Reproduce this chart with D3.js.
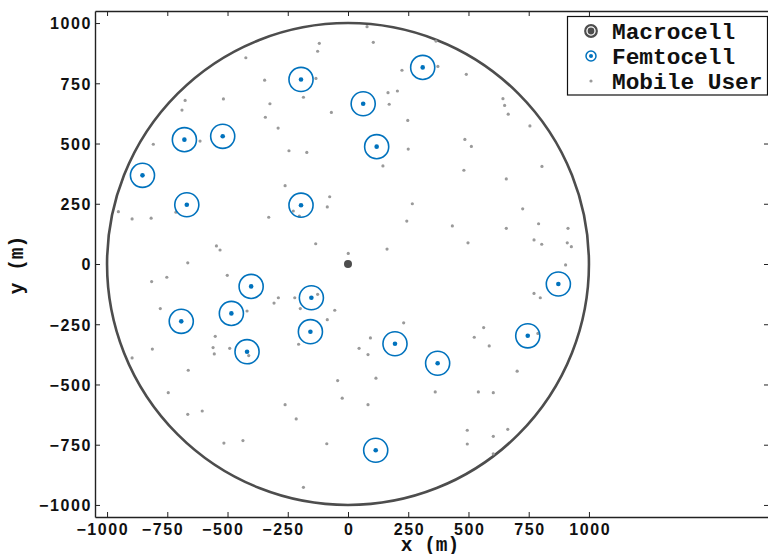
<!DOCTYPE html>
<html>
<head>
<meta charset="utf-8">
<script src="https://cdn.jsdelivr.net/npm/d3@7"></script>
<style>
  body { margin: 0; background: #fff; }
  svg { display: block; }
  .tick text { font-family: "Liberation Sans", sans-serif; font-weight: bold; font-size: 16px; letter-spacing: 1.6px; fill: #111; }
  .tick line, .domain { stroke: #222; }
  .label, .legend text { font-family: "Liberation Mono", monospace; font-weight: bold; fill: #111; }
</style>
</head>
<body>
<script>
// tick values on both axes
const xTicks = [-1000, -750, -500, -250, 0, 250, 500, 750, 1000];
const yTicks = [-1000, -750, -500, -250, 0, 250, 500, 750, 1000];

const cellRadius = 1000;
const femtoRadius = 50;

const macroX = [0];
const macroY = [0];

const femtoX = [-853, -679, -520, -669, -195, 63, 119, -195, 310, 873,
                746, 372, 195, 115, -402, -152, -156, -484, -692, -419];
const femtoY = [368, 516, 530, 246, 766, 665, 487, 244, 816, -83,
                -298, -412, -331, -773, -93, -140, -281, -205, -238, -364];

const userX = [79, -119, -126, 105, -424, -346, -133, -185, -676, -517,
               -689, -324, -69, -343, -290, -808, -614, -245, -171, 145,
               -261, -76, -86, -953, -896, -817, -714, -329, -227, -202,
               -546, -531, -134, 1, -665, -752, -501,
               365, 224, 373, 491, 166, 205, 171, 643, 650, 665,
               248, 755, 485, 512, 250, 805, 481, 657, 267, 725,
               244, 433, 791, 913, 657, 498, 772, 804, 910, 927,
               162, 903,
               -815, -289, -307, -221, -126, -779, -419, -198, -55, -86,
               -551, -812, -560, -491, -555, -412, -205, 93, 46, 83,
               -896, -663, -43, 116, -746, -24, -261, 83, -605, -665,
               -215, -515, -436, -88, -185,
               231, 772, 798, 563, 524, 586, 788, 702, 362, 541,
               603, 495, 663, 603, 495, 603];
const userY = [985, 916, 883, 920, 856, 763, 770, 692, 679, 685,
               639, 665, 629, 609, 564, 497, 510, 470, 463, 407,
               325, 279, 237, 217, 187, 190, 215, 194, 220, 199,
               75, 58, 84, 44, 5, -55, -47,
               925, 804, 820, 787, 711, 718, 663, 686, 658, 622,
               596, 573, 517, 488, 477, 405, 389, 353, 250, 229,
               178, 158, 167, 148, 148, 88, 100, 82, 88, 72,
               62, -4,
               -73, -140, -162, -140, -126, -185, -195, -185, -192, -231,
               -300, -353, -347, -350, -373, -380, -333, -307, -350, -376,
               -390, -441, -484, -474, -534, -557, -584, -584, -610, -624,
               -643, -743, -733, -746, -927,
               -244, -122, -140, -264, -304, -340, -288, -445, -531, -531,
               -534, -690, -686, -715, -747, -788];

const legendLabels = ["Macrocell", "Femtocell", "Mobile User"];

const W = 768, H = 554;
const box = { left: 95, top: 11, right: 769, bottom: 517 };
const k = (box.bottom - box.top) / 2100;

const x = d3.scaleLinear()
    .domain([-1050, -1050 + (box.right - box.left) / k])
    .range([box.left, box.right]);
const y = d3.scaleLinear()
    .domain([-1050, 1050])
    .range([box.bottom, box.top]);
const r = (d) => x(d) - x(0);

const fmt = (d) => d < 0 ? "\u2212" + Math.abs(d) : String(d);

const svg = d3.select("body").append("svg")
    .attr("width", W)
    .attr("height", H);

const plot = svg.append("g");

plot.append("circle")
    .attr("cx", x(0))
    .attr("cy", y(0))
    .attr("r", r(cellRadius))
    .attr("fill", "none")
    .attr("stroke", "#4d4d4d")
    .attr("stroke-width", 2.6);

plot.selectAll(".user")
    .data(userX)
    .enter().append("circle")
    .attr("class", "user")
    .attr("cx", (d) => x(d))
    .attr("cy", (d, i) => y(userY[i]))
    .attr("r", 1.6)
    .attr("fill", "#9a9a9a");

plot.selectAll(".femto")
    .data(femtoX)
    .enter().append("circle")
    .attr("class", "femto")
    .attr("cx", (d) => x(d))
    .attr("cy", (d, i) => y(femtoY[i]))
    .attr("r", r(femtoRadius))
    .attr("fill", "none")
    .attr("stroke", "#0072BD")
    .attr("stroke-width", 1.6);

plot.selectAll(".femto-dot")
    .data(femtoX)
    .enter().append("circle")
    .attr("class", "femto-dot")
    .attr("cx", (d) => x(d))
    .attr("cy", (d, i) => y(femtoY[i]))
    .attr("r", 2.3)
    .attr("fill", "#0072BD");

plot.selectAll(".macro")
    .data(macroX)
    .enter().append("circle")
    .attr("class", "macro")
    .attr("cx", (d) => x(d))
    .attr("cy", (d, i) => y(macroY[i]))
    .attr("r", 4)
    .attr("fill", "#4d4d4d");

// axes, ticks pointing inward
const gx = svg.append("g")
    .attr("transform", "translate(0," + box.bottom + ")")
    .call(d3.axisBottom(x).tickValues(xTicks).tickSizeInner(-5).tickSizeOuter(0).tickFormat(fmt));
gx.selectAll("text")
    .attr("y", 18)
    .attr("dy", 0)
    .attr("dx", (d) => d < 0 ? -4.7 : 0.8);

svg.append("g")
    .attr("transform", "translate(0," + box.top + ")")
    .call(d3.axisTop(x).tickValues(xTicks).tickSizeInner(-5).tickSizeOuter(0).tickFormat(""));

const gy = svg.append("g")
    .attr("transform", "translate(" + box.left + ",0)")
    .call(d3.axisLeft(y).tickValues(yTicks).tickSizeInner(-5).tickSizeOuter(0).tickFormat(fmt));
gy.selectAll("text")
    .attr("x", -3)
    .attr("dy", "0.36em");

svg.append("g")
    .attr("transform", "translate(" + box.right + ",0)")
    .call(d3.axisRight(y).tickValues(yTicks).tickSizeInner(-5).tickSizeOuter(0).tickFormat(""));

svg.selectAll(".domain").attr("stroke-width", 1.4);

svg.append("text")
    .attr("class", "label")
    .attr("x", 430)
    .attr("y", 551)
    .attr("text-anchor", "middle")
    .style("font-size", "19.5px")
    .text("x (m)");

svg.append("text")
    .attr("class", "label")
    .attr("transform", "translate(23,265) rotate(-90)")
    .attr("text-anchor", "middle")
    .style("font-size", "19.5px")
    .text("y (m)");

// legend
const legend = svg.append("g").attr("class", "legend");
legend.append("rect")
    .attr("x", 567.5)
    .attr("y", 16.5)
    .attr("width", 200)
    .attr("height", 78.5)
    .attr("fill", "#fff")
    .attr("stroke", "#111")
    .attr("stroke-width", 1.2);

const rowY = (i) => 31 + i * 25;

legend.append("circle")
    .attr("cx", 591).attr("cy", rowY(0)).attr("r", 5.8)
    .attr("fill", "none").attr("stroke", "#4d4d4d").attr("stroke-width", 2.2);
legend.append("circle")
    .attr("cx", 591).attr("cy", rowY(0)).attr("r", 3.4)
    .attr("fill", "#4d4d4d");
legend.append("circle")
    .attr("cx", 591).attr("cy", rowY(1)).attr("r", 5)
    .attr("fill", "none").attr("stroke", "#0072BD").attr("stroke-width", 1.5);
legend.append("circle")
    .attr("cx", 591).attr("cy", rowY(1)).attr("r", 2)
    .attr("fill", "#0072BD");
legend.append("circle")
    .attr("cx", 591).attr("cy", rowY(2)).attr("r", 1.6)
    .attr("fill", "#9a9a9a");

legend.selectAll("text")
    .data(legendLabels)
    .enter().append("text")
    .attr("x", 612)
    .attr("y", (d, i) => rowY(i) + 7.5)
    .style("font-size", "22.8px")
    .text((d) => d);
</script>
</body>
</html>
